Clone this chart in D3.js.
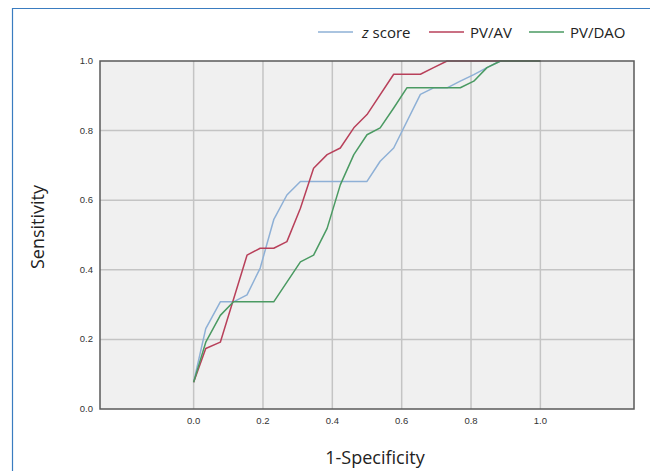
<!DOCTYPE html>
<html>
<head>
<meta charset="utf-8">
<script src="https://cdn.jsdelivr.net/npm/d3@7/dist/d3.min.js"></script>
<style>
  body { margin: 0; background: #fff; }
  .tick-label { font-family: Arial, 'Liberation Sans', sans-serif; font-size: 9.5px; fill: #333; }
  .axis-title { font-family: 'Open Sans', sans-serif; fill: #222; }
  .legend-text { font-family: 'Open Sans', sans-serif; font-size: 15px; fill: #222; }
</style>
</head>
<body>
<div id="chart"></div>
<script>
// ROC curves
var zScoreFpr = [0, 0.035, 0.077, 0.115, 0.154, 0.192, 0.231, 0.269, 0.308, 0.5, 0.538, 0.577, 0.654, 0.692, 0.731, 0.769, 0.808, 0.846, 0.885, 1.0];
var zScoreTpr = [0.077, 0.231, 0.308, 0.308, 0.328, 0.405, 0.544, 0.615, 0.654, 0.654, 0.712, 0.75, 0.904, 0.923, 0.923, 0.942, 0.961, 0.981, 1.0, 1.0];

var pvAvFpr = [0, 0.035, 0.077, 0.154, 0.192, 0.231, 0.269, 0.308, 0.346, 0.385, 0.423, 0.462, 0.5, 0.577, 0.654, 0.692, 0.731, 1.0];
var pvAvTpr = [0.077, 0.174, 0.192, 0.442, 0.462, 0.462, 0.481, 0.577, 0.692, 0.731, 0.75, 0.808, 0.846, 0.962, 0.962, 0.981, 1.0, 1.0];

var pvDaoFpr = [0, 0.035, 0.077, 0.115, 0.231, 0.308, 0.346, 0.385, 0.423, 0.462, 0.5, 0.538, 0.577, 0.615, 0.769, 0.808, 0.846, 0.885, 1.0];
var pvDaoTpr = [0.077, 0.192, 0.269, 0.308, 0.308, 0.423, 0.442, 0.519, 0.644, 0.731, 0.788, 0.808, 0.865, 0.923, 0.923, 0.942, 0.981, 1.0, 1.0];

var seriesNames = ['z score', 'PV/AV', 'PV/DAO'];
var seriesColors = ['#8eb0d6', '#b8405a', '#4a9a62'];
var xTicks = [0, 0.2, 0.4, 0.6, 0.8, 1.0];
var yTicks = [0, 0.2, 0.4, 0.6, 0.8, 1.0];

var series = [
    {name: seriesNames[0], color: seriesColors[0], points: zScoreFpr.map(function (x, i) { return [x, zScoreTpr[i]]; })},
    {name: seriesNames[1], color: seriesColors[1], points: pvAvFpr.map(function (x, i) { return [x, pvAvTpr[i]]; })},
    {name: seriesNames[2], color: seriesColors[2], points: pvDaoFpr.map(function (x, i) { return [x, pvDaoTpr[i]]; })}
];

var W = 650, H = 471;
var margin = {top: 61, right: 16, bottom: 62, left: 100},
    width = W - margin.left - margin.right,
    height = H - margin.top - margin.bottom;

var svg = d3.select('#chart')
    .append('svg')
    .attr('width', W)
    .attr('height', H);

// blue frame on top and left
svg.append('path')
    .attr('d', 'M650,8.5 H12.5 V471')
    .attr('fill', 'none')
    .attr('stroke', '#3a7cc0')
    .attr('stroke-width', 1.2);

var x = d3.scaleLinear().domain([-0.27, 1.27]).range([0, width]);
var y = d3.scaleLinear().domain([0, 1]).range([height, 0]);

var g = svg.append('g')
    .attr('transform', `translate(${margin.left},${margin.top})`);

g.append('rect')
    .attr('width', width)
    .attr('height', height)
    .attr('fill', '#f0f0f0');

// grid
g.append('g')
    .selectAll('line')
    .data(xTicks)
    .enter().append('line')
    .attr('x1', d => x(d)).attr('x2', d => x(d))
    .attr('y1', 0).attr('y2', height)
    .attr('stroke', '#c4c4c4')
    .attr('stroke-width', 1.5);

g.append('g')
    .selectAll('line')
    .data(yTicks.filter(d => d > 0 && d < 1))
    .enter().append('line')
    .attr('x1', 0).attr('x2', width)
    .attr('y1', d => y(d)).attr('y2', d => y(d))
    .attr('stroke', '#c4c4c4')
    .attr('stroke-width', 1.5);

// curves
var line = d3.line()
    .x(d => x(d[0]))
    .y(d => y(d[1]));

g.append('g')
    .selectAll('path')
    .data(series)
    .enter().append('path')
    .attr('d', d => line(d.points))
    .attr('fill', 'none')
    .attr('stroke', d => d.color)
    .attr('stroke-width', 1.5)
    .attr('stroke-linejoin', 'round');

// plot border
g.append('rect')
    .attr('width', width)
    .attr('height', height)
    .attr('fill', 'none')
    .attr('stroke', '#5a5a5a')
    .attr('stroke-width', 1.5);

// tick labels
g.append('g')
    .selectAll('text')
    .data(yTicks)
    .enter().append('text')
    .attr('class', 'tick-label')
    .attr('x', -7)
    .attr('y', d => y(d) + 3)
    .attr('text-anchor', 'end')
    .text(d3.format('.1f'));

g.append('g')
    .selectAll('text')
    .data(xTicks)
    .enter().append('text')
    .attr('class', 'tick-label')
    .attr('x', d => x(d))
    .attr('y', height + 15)
    .attr('text-anchor', 'middle')
    .text(d3.format('.1f'));

// axis titles
svg.append('text')
    .attr('class', 'axis-title')
    .attr('x', 375)
    .attr('y', 464)
    .attr('text-anchor', 'middle')
    .style('font-size', '18px')
    .text('1-Specificity');

svg.append('text')
    .attr('class', 'axis-title')
    .attr('transform', 'translate(44,227) rotate(-90)')
    .attr('text-anchor', 'middle')
    .style('font-size', '18px')
    .text('Sensitivity');

// legend
var legendX = [318, 429, 529];
var legend = svg.append('g')
    .selectAll('g')
    .data(series)
    .enter().append('g')
    .attr('transform', (d, i) => `translate(${legendX[i]},32)`);

legend.append('line')
    .attr('x1', 0).attr('x2', 35)
    .attr('stroke', d => d.color)
    .attr('stroke-width', 1.5);

legend.append('text')
    .attr('class', 'legend-text')
    .attr('x', (d, i) => i === 0 ? 44 : 41)
    .attr('y', 5.5)
    .each(function (d) {
        var t = d3.select(this);
        if (d.name === 'z score') {
            t.append('tspan').style('font-style', 'italic').text('z');
            t.append('tspan').text(' score');
        } else {
            t.text(d.name);
        }
    });
</script>
</body>
</html>
